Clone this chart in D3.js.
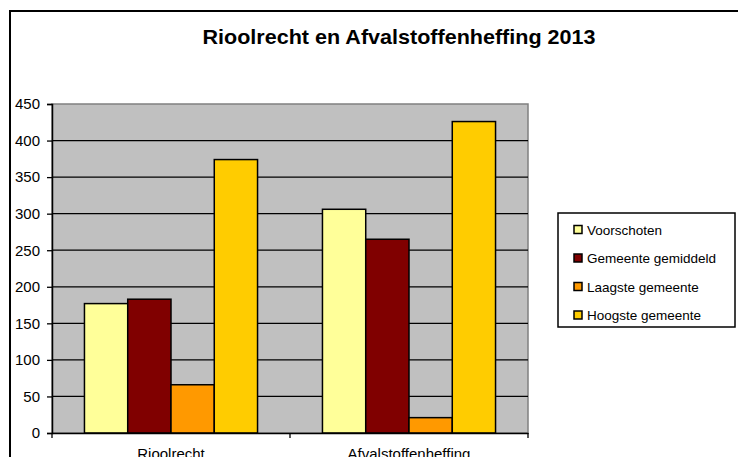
<!DOCTYPE html>
<html>
<head>
<meta charset="utf-8">
<script src="https://cdn.jsdelivr.net/npm/d3@7"></script>
<style>
  html, body { margin: 0; padding: 0; background: #fff; }
  svg { display: block; font-family: "Liberation Sans", Arial, sans-serif; }
</style>
</head>
<body>
<script>
var categories = ["Rioolrecht", "Afvalstoffenheffing"];
var series = ["Voorschoten", "Gemeente gemiddeld", "Laagste gemeente", "Hoogste gemeente"];
var colors = ["#FFFF99", "#800000", "#FF9900", "#FFCC00"];
var values = [
  [177, 306],   // Voorschoten
  [183, 265],   // Gemeente gemiddeld
  [66, 21],     // Laagste gemeente
  [374, 426]    // Hoogste gemeente
];
var yTicks = [0, 50, 100, 150, 200, 250, 300, 350, 400, 450];

var width = 738, height = 457;
var plot = {left: 52, right: 528, top: 104, bottom: 433};

var svg = d3.select("body").append("svg")
    .attr("width", width)
    .attr("height", height);

// outer chart border
svg.append("rect")
    .attr("x", 10).attr("y", 11)
    .attr("width", 740).attr("height", 460)
    .attr("fill", "#fff")
    .attr("stroke", "#000")
    .attr("stroke-width", 2);

svg.append("text")
    .attr("x", 399).attr("y", 44)
    .attr("text-anchor", "middle")
    .attr("font-size", 20.5)
    .attr("font-weight", "bold")
    .attr("textLength", 393)
    .attr("lengthAdjust", "spacingAndGlyphs")
    .text("Rioolrecht en Afvalstoffenheffing 2013");

var y = d3.scaleLinear().domain([0, 450]).range([plot.bottom, plot.top]);
var x0 = d3.scaleBand().domain(categories).range([plot.left, plot.right]);
var x1 = d3.scaleBand().domain(series).range([0, x0.bandwidth()])
    .paddingInner(0).paddingOuter(0.75);

// plot background
svg.append("rect")
    .attr("x", plot.left).attr("y", plot.top)
    .attr("width", plot.right - plot.left)
    .attr("height", plot.bottom - plot.top)
    .attr("fill", "#C0C0C0")
    .attr("stroke", "#808080")
    .attr("stroke-width", 1.5);

// gridlines
svg.append("g").selectAll("line")
    .data(yTicks.filter(function(d) { return d > 0 && d < 450; }))
    .join("line")
    .attr("x1", plot.left).attr("x2", plot.right)
    .attr("y1", function(d) { return y(d); })
    .attr("y2", function(d) { return y(d); })
    .attr("stroke", "#000")
    .attr("stroke-width", 1.3);

// bars
var groups = svg.append("g").selectAll("g")
    .data(categories)
    .join("g")
    .attr("transform", function(d) { return "translate(" + x0(d) + ",0)"; });

groups.selectAll("rect")
    .data(function(c, ci) {
      return series.map(function(s, si) { return {s: s, i: si, v: values[si][ci]}; });
    })
    .join("rect")
    .attr("x", function(d) { return x1(d.s); })
    .attr("y", function(d) { return y(d.v); })
    .attr("width", x1.bandwidth())
    .attr("height", function(d) { return y(0) - y(d.v); })
    .attr("fill", function(d) { return colors[d.i]; })
    .attr("stroke", "#000")
    .attr("stroke-width", 1.5);

// y axis
var yAxis = svg.append("g")
    .attr("transform", "translate(" + plot.left + ",0)")
    .call(d3.axisLeft(y).tickValues(yTicks).tickSize(5).tickPadding(7));
yAxis.select(".domain").attr("stroke", "#000").attr("stroke-width", 1.5);
yAxis.selectAll(".tick line").attr("stroke", "#000").attr("stroke-width", 1.3);
yAxis.selectAll("text").attr("font-size", 15).attr("fill", "#000")
    .attr("font-family", "Liberation Sans, Arial, sans-serif");

// x axis
var xAxis = svg.append("g")
    .attr("transform", "translate(0," + plot.bottom + ")")
    .call(d3.axisBottom(x0).tickSize(0).tickPadding(15));
xAxis.select(".domain").attr("stroke", "#000").attr("stroke-width", 1.5);
xAxis.selectAll("text").attr("font-size", 15).attr("fill", "#000")
    .attr("font-family", "Liberation Sans, Arial, sans-serif");
xAxis.selectAll(".sep")
    .data([plot.left, x0(categories[1]), plot.right])
    .join("line")
    .attr("class", "sep")
    .attr("x1", function(d) { return d; }).attr("x2", function(d) { return d; })
    .attr("y1", 0).attr("y2", 5)
    .attr("stroke", "#000").attr("stroke-width", 1.3);

// legend
var legend = svg.append("g").attr("transform", "translate(558,213)");
legend.append("rect")
    .attr("width", 177).attr("height", 114)
    .attr("fill", "#fff").attr("stroke", "#000").attr("stroke-width", 1.5);
var items = legend.selectAll(".item")
    .data(series)
    .join("g")
    .attr("class", "item")
    .attr("transform", function(d, i) { return "translate(16," + (16.5 + i * 28.5) + ")"; });
items.append("rect")
    .attr("x", 0).attr("y", -4)
    .attr("width", 8).attr("height", 8)
    .attr("fill", function(d, i) { return colors[i]; })
    .attr("stroke", "#000").attr("stroke-width", 1.5);
items.append("text")
    .attr("x", 13).attr("y", 5)
    .attr("font-size", 13.5)
    .text(function(d) { return d; });
</script>
</body>
</html>
